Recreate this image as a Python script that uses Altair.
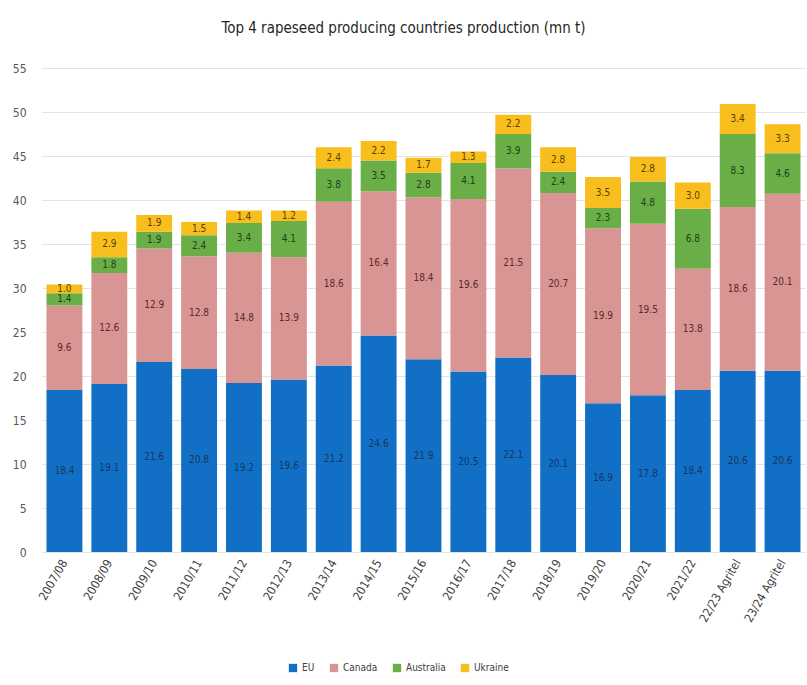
import altair as alt
import pandas as pd

seasons = ["2007/08", "2008/09", "2009/10", "2010/11", "2011/12", "2012/13",
           "2013/14", "2014/15", "2015/16", "2016/17", "2017/18", "2018/19",
           "2019/20", "2020/21", "2021/22", "22/23 Agritel", "23/24 Agritel"]
eu = [18.4, 19.1, 21.6, 20.8, 19.2, 19.6, 21.2, 24.6, 21.9, 20.5, 22.1, 20.1,
      16.9, 17.8, 18.4, 20.6, 20.6]
canada = [9.6, 12.6, 12.9, 12.8, 14.8, 13.9, 18.6, 16.4, 18.4, 19.6, 21.5, 20.7,
          19.9, 19.5, 13.8, 18.6, 20.1]
australia = [1.4, 1.8, 1.9, 2.4, 3.4, 4.1, 3.8, 3.5, 2.8, 4.1, 3.9, 2.4,
             2.3, 4.8, 6.8, 8.3, 4.6]
ukraine = [1.0, 2.9, 1.9, 1.5, 1.4, 1.2, 2.4, 2.2, 1.7, 1.3, 2.2, 2.8,
           3.5, 2.8, 3.0, 3.4, 3.3]

series = ["EU", "Canada", "Australia", "Ukraine"]
colors = ["#1170C6", "#D99594", "#6AAE48", "#F8BE1E"]
text_colors = ["#17365d", "#5b2a2a", "#23401a", "#5a4300"]

rows = []
for name, vals in zip(series, [eu, canada, australia, ukraine]):
    for s, v in zip(seasons, vals):
        rows.append({"season": s, "country": name, "value": v,
                     "order": series.index(name)})
df = pd.DataFrame(rows)

font = "DejaVu Sans Condensed"

base = alt.Chart(df).transform_stack(
    stack="value", groupby=["season"], as_=["y0", "y1"],
    sort=[alt.SortField("order", order="ascending")]
).transform_calculate(mid="(datum.y0 + datum.y1) / 2")

x_enc = alt.X("season:N", sort=seasons, title=None,
              scale=alt.Scale(paddingInner=0.2, paddingOuter=0.1),
              axis=alt.Axis(labelAngle=-60, labelFontSize=12, labelColor="#404040",
                            labelFont=font, domain=False, ticks=False, labelPadding=8))

bars = base.mark_bar().encode(
    x=x_enc,
    y=alt.Y("y0:Q", title=None,
            scale=alt.Scale(domain=[0, 55], nice=False),
            axis=alt.Axis(values=list(range(0, 56, 5)), labelFontSize=12,
                          labelColor="#595959", labelFont=font, domain=False,
                          ticks=False, gridColor="#e3e3e3", labelPadding=16)),
    y2="y1:Q",
    color=alt.Color("country:N", sort=series,
                    scale=alt.Scale(domain=series, range=colors),
                    legend=alt.Legend(title=None, orient="none", direction="horizontal",
                                      legendX=246, legendY=595, symbolType="square",
                                      symbolSize=70, labelFontSize=10, labelFont=font,
                                      labelColor="#404040", columnPadding=14,
                                      symbolOpacity=1)),
)

labels = base.mark_text(fontSize=10, font=font).encode(
    x=alt.X("season:N", sort=seasons),
    y=alt.Y("mid:Q"),
    text=alt.Text("value:Q", format=".1f"),
    color=alt.Color("country:N", scale=alt.Scale(domain=series, range=text_colors),
                    legend=None),
)

chart = alt.layer(bars, labels).resolve_scale(color="independent").properties(
    width=763, height=484,
    title=alt.TitleParams("Top 4 rapeseed producing countries production (mn t)",
                          fontSize=15, font=font, fontWeight="normal",
                          color="#262626", anchor="middle", offset=26, dx=-20),
    autosize=alt.AutoSizeParams(type="none"),
    padding={"left": 42, "top": 68, "right": 2, "bottom": 133},
).configure_view(stroke=None)

chart.save("out.html", embed_options={"renderer": "svg", "actions": False})
